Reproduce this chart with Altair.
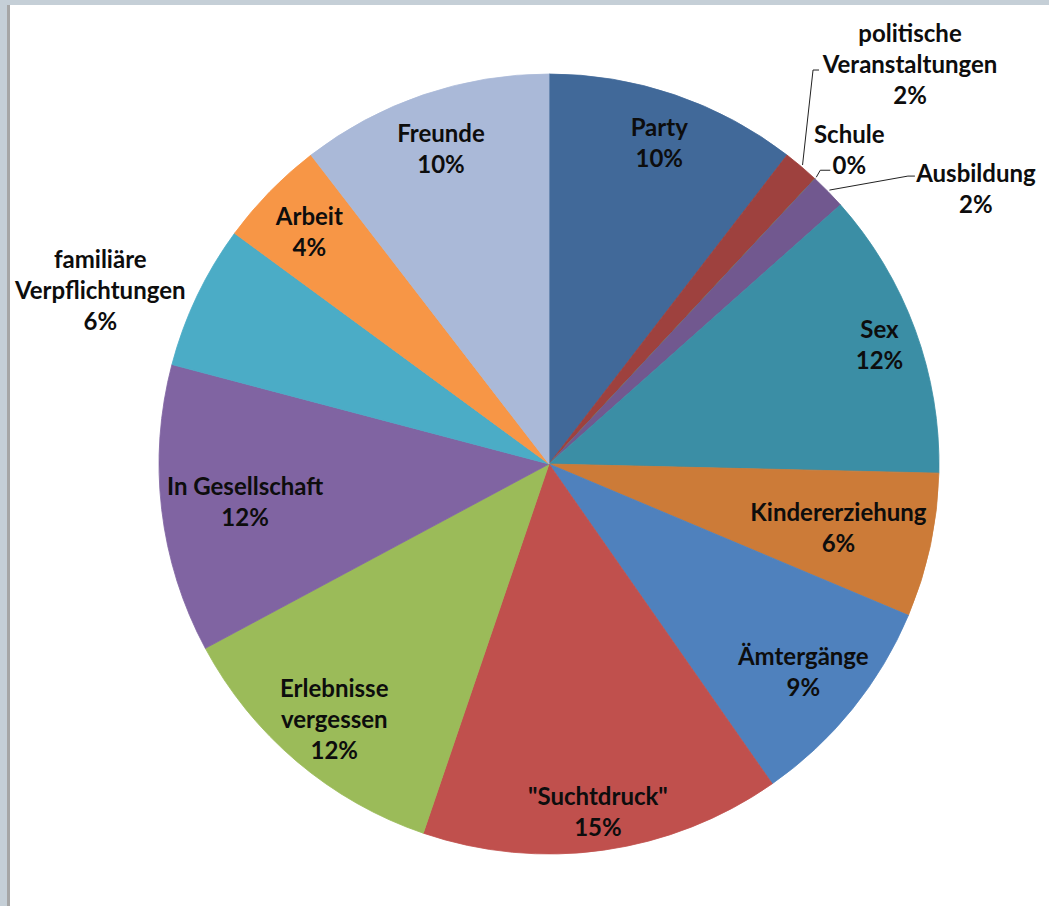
import altair as alt
import pandas as pd

# ---------------- data ----------------
categories = ["Party", "politische Veranstaltungen", "Schule", "Ausbildung", "Sex",
              "Kindererziehung", "Ämtergänge", '"Suchtdruck"', "Erlebnisse vergessen",
              "In Gesellschaft", "familiäre Verpflichtungen", "Arbeit", "Freunde"]
counts = [7, 1, 0, 1, 8, 4, 6, 10, 8, 8, 4, 3, 7]
pct_text = ["10%", "2%", "0%", "2%", "12%", "6%", "9%", "15%", "12%", "12%", "6%", "4%", "10%"]
name_lines = ["Party", "politische\nVeranstaltungen", "Schule", "Ausbildung", "Sex",
              "Kindererziehung", "Ämtergänge", '"Suchtdruck"', "Erlebnisse\nvergessen",
              "In Gesellschaft", "familiäre\nVerpflichtungen", "Arbeit", "Freunde"]
colors = ["#416999", "#9E413E", "#7E9A46", "#71588F", "#3B8EA5", "#CC7B38", "#4F81BD",
          "#C0504D", "#9BBB59", "#8064A2", "#4BACC6", "#F79646", "#AAB9D8"]

df = pd.DataFrame({
    "category": categories,
    "count": counts,
    "label": [n + "\n" + p for n, p in zip(name_lines, pct_text)],
    "idx": list(range(len(categories))),
})

# ---------------- label layout ----------------
inside_cats = ["Party", "Sex", "Kindererziehung", "Ämtergänge", '"Suchtdruck"',
               "Erlebnisse vergessen", "In Gesellschaft", "Arbeit", "Freunde"]
inside_radius = [342, 352, 296, 327, 349, 332, 306, 335, 335]
inside_df = pd.DataFrame({"category": inside_cats, "lr": inside_radius})

outside_cats = ["politische Veranstaltungen", "Schule", "Ausbildung", "familiäre Verpflichtungen"]
out_df = pd.DataFrame({
    "category": outside_cats,
    "ldx": [107.5, 33, 146.5, -95],   # label centre offset from slice edge
    "ldy": [-103, -30, -4, -7],
    "kdx": [10.5, 4, 78.5, 0],        # leader elbow offset
    "kdy": [-95, -7, -14, 0],
    "edx": [16.5, 14, 85.5, 0],       # leader end offset
    "lead": [1, 1, 1, 0],
})

W, H = 1000, 884
CX, CY = W / 2, H / 2
R = 390
RE = 392
FONT = "Lato"
FS = 24
LH = 31
TXT = "#0d0d0d"

color_scale = alt.Scale(domain=categories, range=colors)
base = alt.Chart(df)

pie = base.mark_arc(outerRadius=R, strokeWidth=0.8).encode(
    theta=alt.Theta("count:Q", stack=True),
    color=alt.Color("category:N", scale=color_scale, legend=None),
    stroke=alt.Stroke("category:N", scale=color_scale, legend=None),
    order=alt.Order("idx:Q"),
)

geo = base.transform_joinaggregate(total="sum(count)").transform_window(
    cum="sum(count)", sort=[alt.SortField("idx")], frame=[None, 0]
).transform_calculate(
    mid="2*PI*(datum.cum - datum.count/2)/datum.total",
    shift=f"(split(datum.label, '\\n').length - 1) * {LH} / 2",
).transform_calculate(
    ex=f"{CX} + {RE}*sin(datum.mid)",
    ey=f"{CY} - {RE}*cos(datum.mid)",
)

text_style = dict(font=FONT, fontSize=FS, fontWeight="bold", lineBreak="\n", lineHeight=LH,
                  color=TXT, align="center", baseline="middle", dy=4)

inside = geo.transform_lookup(
    lookup="category", from_=alt.LookupData(inside_df, "category", ["lr"])
).transform_filter("isValid(datum.lr)").transform_calculate(
    lx=f"{CX} + datum.lr*sin(datum.mid)",
    ly=f"{CY} - datum.lr*cos(datum.mid) - datum.shift",
).mark_text(**text_style).encode(
    x=alt.X("lx:Q", scale=None, axis=None),
    y=alt.Y("ly:Q", scale=None, axis=None),
    text="label:N",
)

outg = geo.transform_lookup(
    lookup="category",
    from_=alt.LookupData(out_df, "category", ["ldx", "ldy", "kdx", "kdy", "edx", "lead"]),
).transform_filter("isValid(datum.ldx)").transform_calculate(
    lx="datum.ex + datum.ldx", ly="datum.ey + datum.ldy - datum.shift",
    kx="datum.ex + datum.kdx", ky="datum.ey + datum.kdy",
    fx="datum.ex + datum.edx",
)

out_text = outg.mark_text(**text_style).encode(
    x=alt.X("lx:Q", scale=None, axis=None),
    y=alt.Y("ly:Q", scale=None, axis=None),
    text="label:N",
)

lead1 = outg.transform_filter("datum.lead == 1").mark_rule(color="#222222", strokeWidth=1).encode(
    x=alt.X("ex:Q", scale=None, axis=None), y=alt.Y("ey:Q", scale=None, axis=None),
    x2="kx:Q", y2="ky:Q",
)
lead2 = outg.transform_filter("datum.lead == 1").mark_rule(color="#222222", strokeWidth=1).encode(
    x=alt.X("kx:Q", scale=None, axis=None), y=alt.Y("ky:Q", scale=None, axis=None),
    x2="fx:Q", y2="ky:Q",
)

frame_df = pd.DataFrame({"part": ["top", "left", "line"]})
frame_top = alt.Chart(frame_df).transform_filter("datum.part == 'top'").mark_rect(color="#C5CFD7").encode(
    x=alt.value(-49), x2=alt.value(W), y=alt.value(-22), y2=alt.value(-17))
frame_left = alt.Chart(frame_df).transform_filter("datum.part == 'left'").mark_rect(color="#C5CFD7").encode(
    x=alt.value(-49), x2=alt.value(-42), y=alt.value(-22), y2=alt.value(H))
frame_line = alt.Chart(frame_df).transform_filter("datum.part == 'line'").mark_rect(color="#A6A6A6").encode(
    x=alt.value(-42), x2=alt.value(-39), y=alt.value(-17), y2=alt.value(H))

chart = alt.layer(pie, inside, lead1, lead2, out_text, frame_top, frame_left, frame_line).properties(
    width=W, height=H,
    padding={"left": 49, "top": 22, "right": 0, "bottom": 0},
    autosize=alt.AutoSizeParams(type="none"),
    background="white",
).configure_view(strokeWidth=0)

chart.save("out.html", embed_options={"renderer": "svg", "actions": False})
